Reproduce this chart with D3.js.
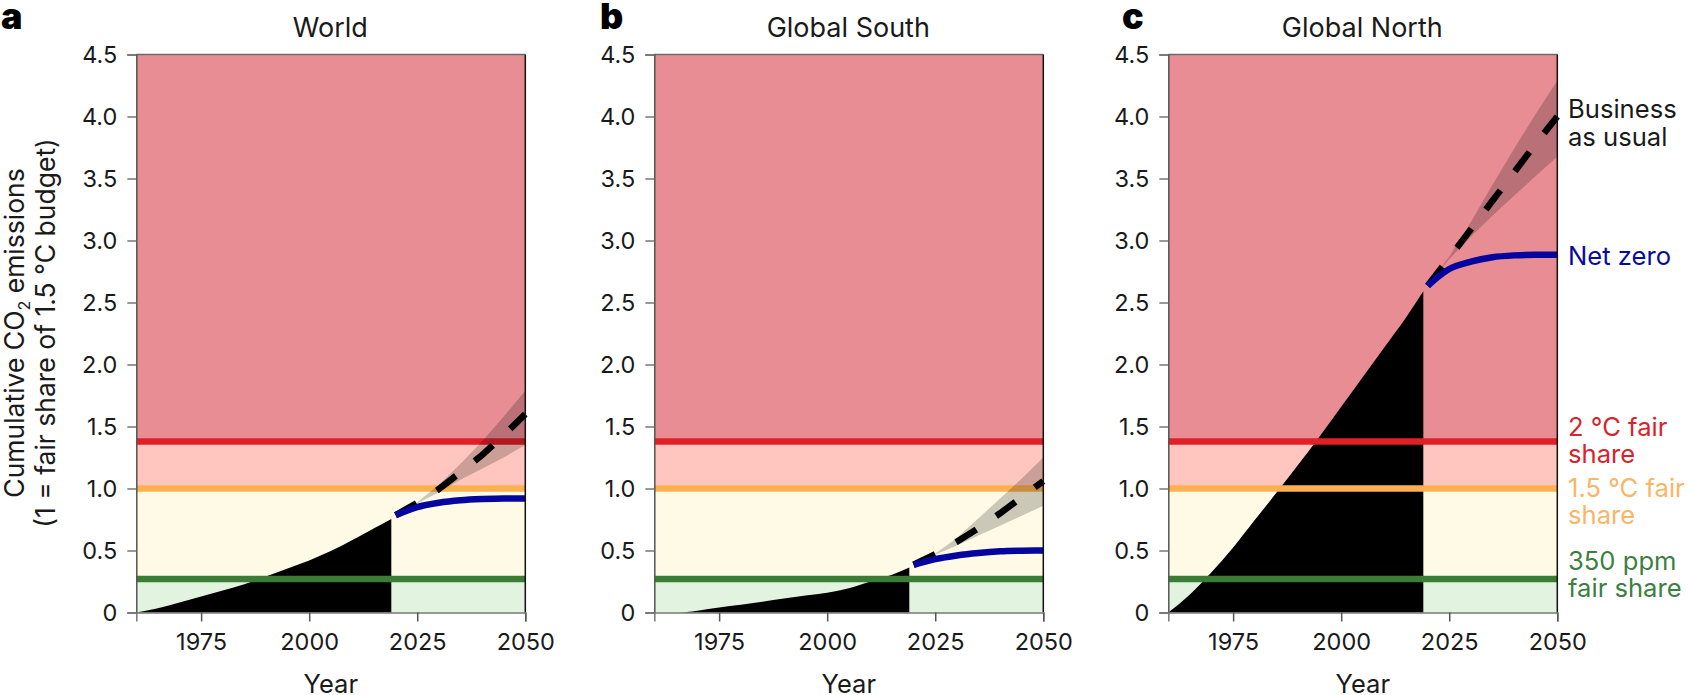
<!DOCTYPE html>
<html><head><meta charset="utf-8">
<script src="https://cdn.jsdelivr.net/npm/d3@7"></script>
<style>
html,body{margin:0;padding:0;background:#fff;overflow:hidden}
text{font-family:Inter,"Noto Sans",sans-serif;fill:#1a1a1a}
</style></head><body>
<svg id="c" width="1688" height="695"></svg>
<script>
const xTicks=[1975,2000,2025,2050];
const yTicks=[0,0.5,1,1.5,2,2.5,3,3.5,4,4.5];
const thresholds=[1.38,1.0,0.27];
const thresholdColors=["#e01f26","#fdb04e","#3c7d35"];
const bandStops=[4.5,1.38,1.0,0.27,0];
const bandColors=["#e88d94","#ffc6bf","#fffae5","#e2f3df"];

const histYears=[1960,1965,1970,1975,1980,1985,1990,1995,2000,2005,2010,2015,2019];
const histWorld=[0,0.035,0.08,0.13,0.178,0.228,0.29,0.355,0.42,0.495,0.585,0.68,0.755];
const histSouth=[0,0.0,0.015,0.04,0.062,0.087,0.113,0.138,0.16,0.195,0.25,0.305,0.363];
const histNorth=[0,0.145,0.325,0.525,0.745,0.965,1.19,1.42,1.66,1.9,2.14,2.38,2.59];

const futYears=[2020,2025,2030,2035,2040,2045,2050];
const bauWorld=[0.785,0.885,0.995,1.13,1.27,1.43,1.6];
const bauWorldHi=[0.785,0.89,1.03,1.2,1.38,1.58,1.79];
const bauWorldLo=[0.785,0.88,0.97,1.07,1.16,1.25,1.35];
const nzWorld=[0.785,0.85,0.885,0.905,0.915,0.92,0.92];

const bauSouth=[0.385,0.47,0.57,0.68,0.8,0.93,1.06];
const bauSouthHi=[0.385,0.475,0.6,0.76,0.92,1.08,1.25];
const bauSouthLo=[0.385,0.465,0.54,0.62,0.7,0.78,0.86];
const nzSouth=[0.385,0.43,0.46,0.48,0.493,0.498,0.5];

const bauNorth=[2.635,2.86,3.09,3.32,3.55,3.78,4.0];
const bauNorthHi=[2.635,2.87,3.15,3.45,3.74,4.02,4.29];
const bauNorthLo=[2.635,2.85,3.03,3.2,3.36,3.52,3.675];
const nzNorth=[2.635,2.77,2.83,2.865,2.88,2.885,2.885];

const titles=["World","Global South","Global North"];
const letters=["a","b","c"];
const hists=[histWorld,histSouth,histNorth];
const baus=[bauWorld,bauSouth,bauNorth];
const bauHis=[bauWorldHi,bauSouthHi,bauNorthHi];
const bauLos=[bauWorldLo,bauSouthLo,bauNorthLo];
const nzs=[nzWorld,nzSouth,nzNorth];
const panelLefts=[136.3,654.3,1168.3];
const letterX=[1,600,1122];

const labelRows=[
 ["Business",118,"#1a1a1a"],["as usual",146,"#1a1a1a"],
 ["Net zero",265,"#0a0a9a"],
 ["2 °C fair",436,"#d8232b"],["share",463,"#d8232b"],
 ["1.5 °C fair",497,"#fbb566"],["share",524,"#fbb566"],
 ["350 ppm",570,"#3c8040"],["fair share",597,"#3c8040"]];

const W=389,top_=54.5,bot=612.5;
const fs=23.5, fl=26.5, ft=27, fr=25.6;
const svg=d3.select("#c");
const y=d3.scaleLinear().domain([0,4.5]).range([bot,top_]);

panelLefts.forEach((L,i)=>{
  const x=d3.scaleLinear().domain([1960,2050]).range([L,L+W]);
  const g=svg.append("g");
  bandColors.forEach((c,k)=>{
    g.append("rect").attr("x",x(1960)).attr("width",W)
     .attr("y",y(bandStops[k])).attr("height",y(bandStops[k+1])-y(bandStops[k])).attr("fill",c);
  });
  const hist=histYears.map((yr,k)=>[yr,hists[i][k]]);
  g.append("path").datum(hist).attr("fill","#000")
   .attr("d",d3.area().curve(d3.curveMonotoneX).x(d=>x(d[0])).y0(y(0)).y1(d=>y(d[1])));
  thresholds.forEach((t,k)=>{
    g.append("line").attr("x1",x(1960)).attr("x2",x(2050)).attr("y1",y(t)).attr("y2",y(t))
     .attr("stroke",thresholdColors[k]).attr("stroke-width",6.5);
  });
  const fut=futYears.map((yr,k)=>({yr,b:baus[i][k],hi:bauHis[i][k],lo:bauLos[i][k],n:nzs[i][k]}));
  g.append("path").datum(fut).attr("fill","#000").attr("fill-opacity",0.2)
   .attr("d",d3.area().x(d=>x(d.yr)).y0(d=>y(d.lo)).y1(d=>y(d.hi)));
  g.append("path").datum(fut).attr("fill","none").attr("stroke","#000").attr("stroke-width",6.5)
   .attr("stroke-dasharray","24 24")
   .attr("d",d3.line().x(d=>x(d.yr)).y(d=>y(d.b)));
  g.append("path").datum(fut).attr("fill","none").attr("stroke","#0505a0").attr("stroke-width",6.5)
   .attr("d",d3.line().curve(d3.curveMonotoneX).x(d=>x(d.yr)).y(d=>y(d.n)));
  g.append("line").attr("x1",L).attr("x2",L+W).attr("y1",top_).attr("y2",top_).attr("stroke","#6b6b6b").attr("stroke-width",1.5);
  g.append("line").attr("x1",L+W).attr("x2",L+W).attr("y1",top_).attr("y2",bot).attr("stroke","#111").attr("stroke-width",1.5);
  const ax=g.append("g").attr("transform",`translate(${L},0)`)
    .call(d3.axisLeft(y).tickValues(yTicks).tickSize(9).tickPadding(10)
      .tickFormat(d=>d===0?"0":d3.format(".1f")(d)));
  ax.selectAll(".domain").attr("stroke","#555").attr("stroke-width",1.5);
  ax.selectAll(".tick line").attr("stroke","#777").attr("stroke-width",1.5);
  ax.selectAll("text").attr("font-size",fs).attr("font-family","Inter").attr("fill","#1a1a1a");
  const bx=g.append("g").attr("transform",`translate(0,${bot})`)
    .call(d3.axisBottom(x).tickValues(xTicks).tickSize(9).tickPadding(12).tickFormat(d3.format("d")));
  bx.selectAll(".domain").attr("stroke","#777").attr("stroke-width",1.5);
  bx.selectAll(".tick line").attr("stroke","#555").attr("stroke-width",1.5);
  bx.selectAll("text").attr("font-size",fs).attr("font-family","Inter").attr("fill","#1a1a1a");
  svg.append("text").attr("x",L+W/2-0.5).attr("y",37).attr("text-anchor","middle").attr("font-size",ft).text(titles[i]);
  svg.append("text").attr("x",L+W/2).attr("y",692.5).attr("text-anchor","middle").attr("font-size",25.5).text("Year");
  svg.append("text").attr("x",letterX[i]).attr("y",29).attr("font-size",36).attr("font-weight",900).style("fill","#000").text(letters[i]);
});

const yl=svg.append("text").attr("transform","translate(24,333) rotate(-90)").attr("text-anchor","middle").attr("font-size",fl);
yl.append("tspan").text("Cumulative CO");
yl.append("tspan").attr("dy",6).attr("font-size",16).text("2");
yl.append("tspan").attr("dy",-6).text(" emissions");
svg.append("text").attr("transform","translate(55,333) rotate(-90)").attr("text-anchor","middle").attr("font-size",fl)
  .text("(1 = fair share of 1.5 °C budget)");

labelRows.forEach(r=>{
  svg.append("text").attr("x",1568).attr("y",r[1]).attr("font-size",fr).style("fill",r[2]).text(r[0]);
});
</script>
</body></html>
